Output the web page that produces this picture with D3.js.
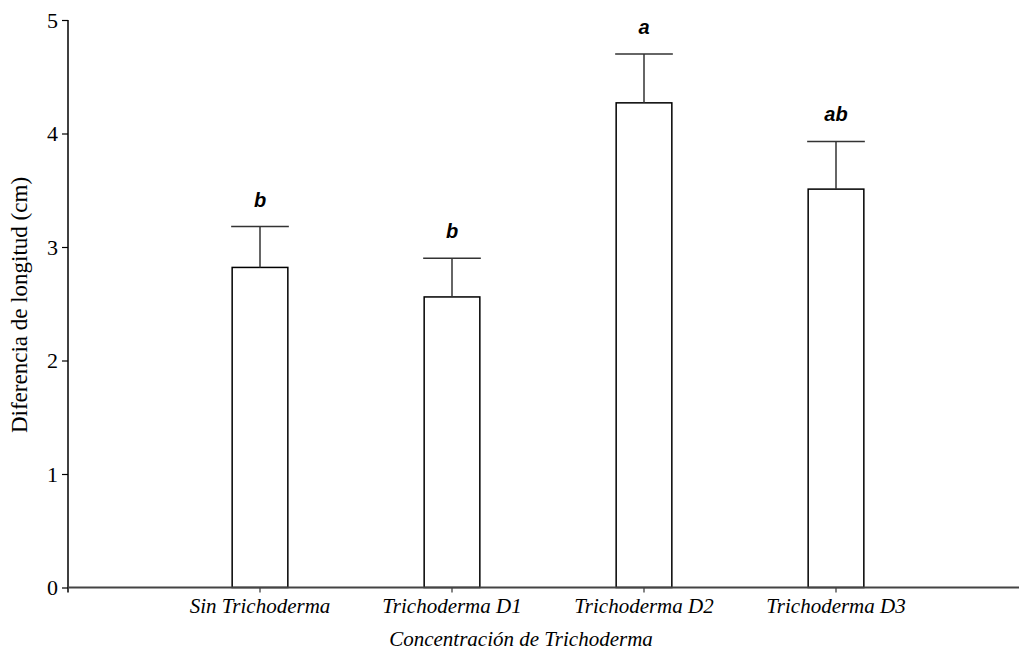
<html>
<head>
    <script src="https://d3js.org/d3.v7.min.js" charset="utf-8"></script>
    <style>
        body { margin: 0; background: #fff; }
        .tick text { font-family: "Liberation Serif", "Times New Roman", serif; }
    </style>
</head>
<body>
<div id="graph"></div>
<script>
    const categories = ['Sin Trichoderma', 'Trichoderma D1', 'Trichoderma D2', 'Trichoderma D3'];
    const means = [2.82, 2.56, 4.27, 3.51];
    const errTop = [3.18, 2.90, 4.70, 3.93];
    const letters = ['b', 'b', 'a', 'ab'];
    const yTicks = [0, 1, 2, 3, 4, 5];

    const w = 1019, h = 652;
    const padLeft = 68, padTop = 20, padBottom = 587.5;

    const svg = d3.select('#graph').append('svg')
        .attr('width', w).attr('height', h);

    const xScale = d3.scaleBand().domain(categories)
        .range([164, 932]).paddingInner(0.71).paddingOuter(0.355);
    const yScale = d3.scaleLinear().domain([0, 5]).range([padBottom, padTop]);

    // bars
    svg.selectAll('.bar').data(categories).enter().append('rect')
        .attr('class', 'bar')
        .attr('x', d => xScale(d))
        .attr('y', (d, i) => yScale(means[i]))
        .attr('width', xScale.bandwidth())
        .attr('height', (d, i) => yScale(0) - yScale(means[i]))
        .attr('fill', '#fff').attr('stroke', '#000').attr('stroke-width', 1.5);

    // error bars
    const cx = d => xScale(d) + xScale.bandwidth() / 2;
    svg.selectAll('.err').data(categories).enter().append('line')
        .attr('x1', cx).attr('x2', cx)
        .attr('y1', (d, i) => yScale(means[i]))
        .attr('y2', (d, i) => yScale(errTop[i]))
        .attr('stroke', '#333').attr('stroke-width', 1.5);
    svg.selectAll('.cap').data(categories).enter().append('line')
        .attr('x1', d => xScale(d) - 1).attr('x2', d => xScale(d) + xScale.bandwidth() + 1)
        .attr('y1', (d, i) => yScale(errTop[i]))
        .attr('y2', (d, i) => yScale(errTop[i]))
        .attr('stroke', '#333').attr('stroke-width', 1.5);

    // letters
    svg.selectAll('.letter').data(categories).enter().append('text')
        .attr('x', cx)
        .attr('y', (d, i) => yScale(errTop[i]) - 20)
        .attr('text-anchor', 'middle')
        .attr('font-family', 'Liberation Sans, Arial, sans-serif')
        .attr('font-weight', 'bold').attr('font-style', 'italic')
        .attr('font-size', 20)
        .text((d, i) => letters[i]);

    // y axis
    const yAxis = d3.axisLeft(yScale).tickValues(yTicks).tickFormat(d3.format('d'))
        .tickSize(6).tickPadding(4);
    const gy = svg.append('g').attr('transform', 'translate(' + padLeft + ',0)').call(yAxis);
    gy.select('.domain').remove();
    gy.selectAll('.tick line').attr('stroke', '#000').attr('stroke-width', 1.2);
    gy.selectAll('.tick text').attr('font-size', 22).attr('fill', '#000');
    svg.append('line')
        .attr('x1', padLeft).attr('x2', padLeft)
        .attr('y1', yScale(5)).attr('y2', padBottom + 5)
        .attr('stroke', '#000').attr('stroke-width', 1.5);

    // x axis
    const xAxis = d3.axisBottom(xScale).tickSize(5).tickPadding(6);
    const gx = svg.append('g').attr('transform', 'translate(0,' + padBottom + ')').call(xAxis);
    gx.select('.domain').remove();
    gx.selectAll('.tick line').attr('stroke', '#333').attr('stroke-width', 1.2);
    gx.selectAll('.tick text').attr('font-size', 21).attr('font-style', 'italic').attr('fill', '#000');
    svg.append('line')
        .attr('x1', padLeft).attr('x2', w)
        .attr('y1', padBottom).attr('y2', padBottom)
        .attr('stroke', '#444').attr('stroke-width', 2);

    // axis titles
    svg.append('text')
        .attr('x', 521).attr('y', 646)
        .attr('text-anchor', 'middle')
        .attr('font-family', 'Liberation Serif, Times New Roman, serif')
        .attr('font-style', 'italic').attr('font-size', 21)
        .text('Concentración de Trichoderma');
    svg.append('text')
        .attr('transform', 'translate(27,' + 305 + ') rotate(-90)')
        .attr('text-anchor', 'middle')
        .attr('font-family', 'Liberation Serif, Times New Roman, serif')
        .attr('font-size', 23)
        .text('Diferencia de longitud (cm)');
</script>
</body>
</html>
